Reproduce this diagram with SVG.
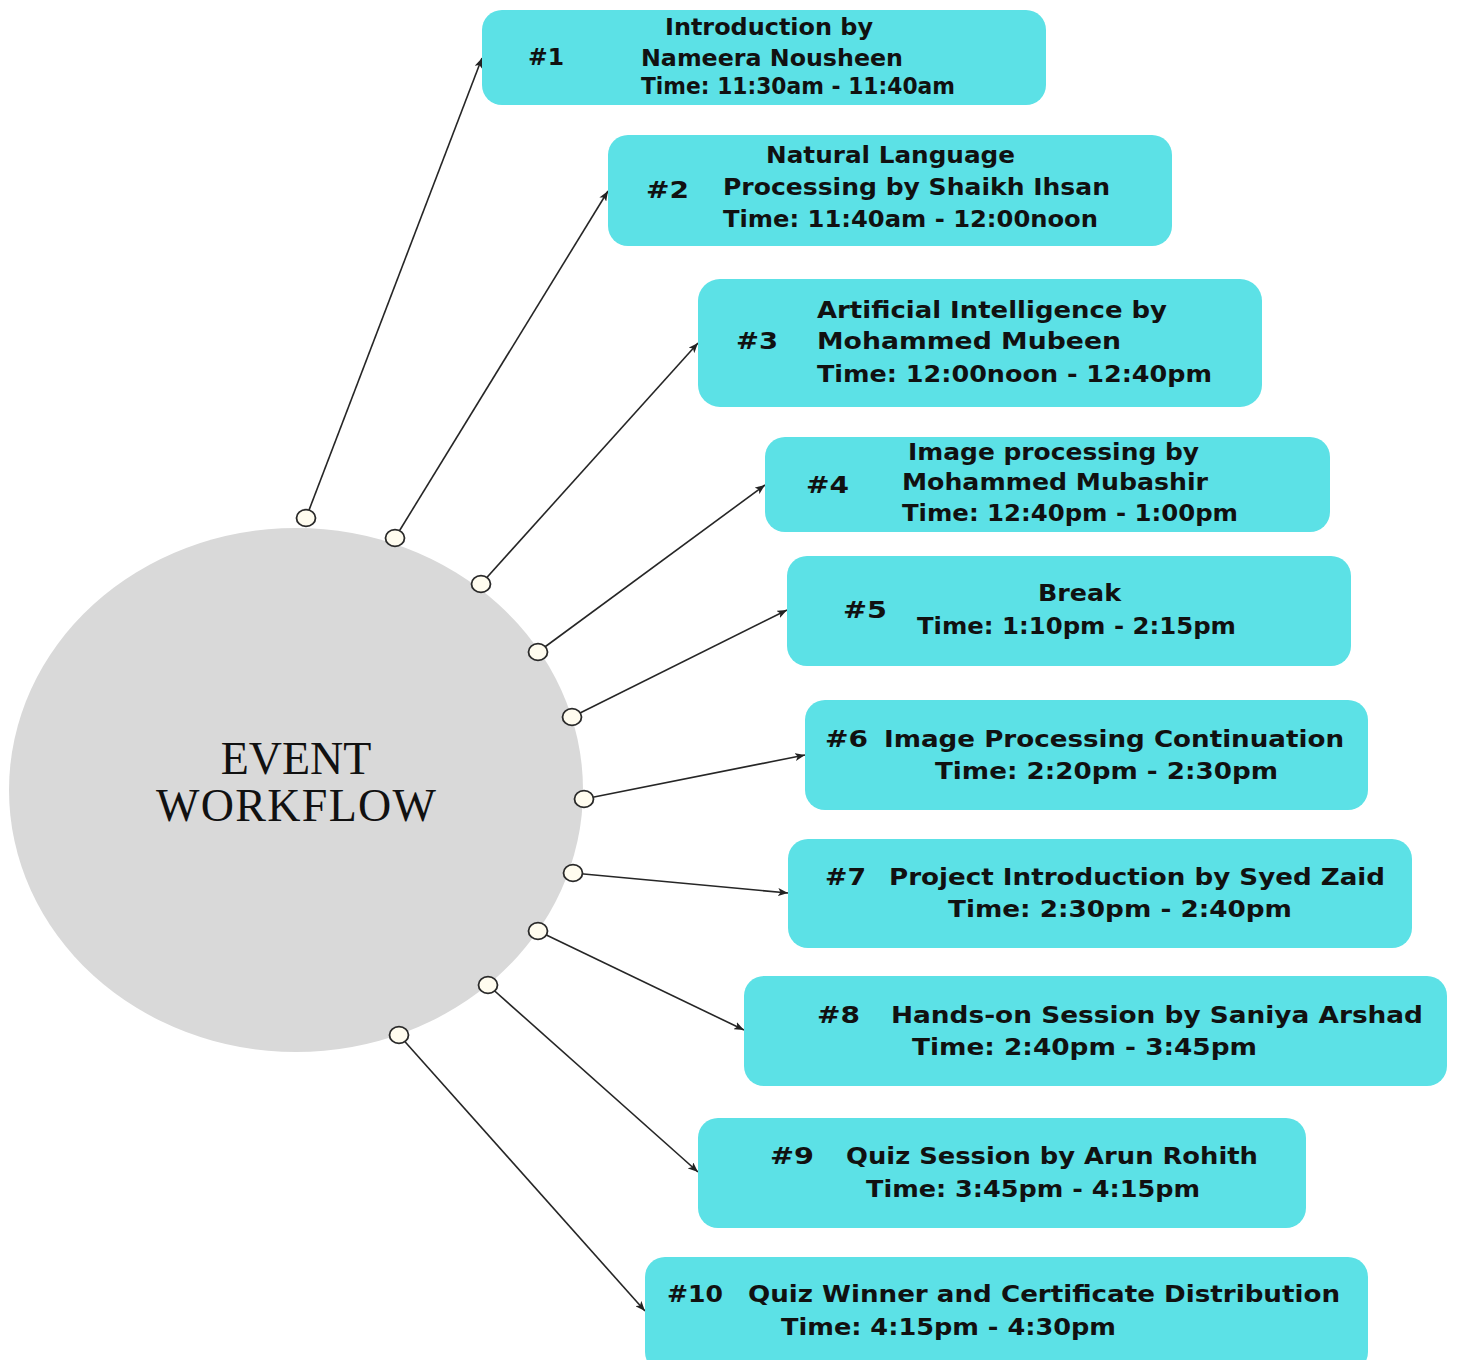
<svg xmlns="http://www.w3.org/2000/svg" width="1457" height="1360" viewBox="0 0 1457 1360">
<style>
.box{fill:#5ce1e6}
.t{font-family:"DejaVu Sans","Noto Sans",sans-serif;font-weight:700;font-size:23.5px;fill:#111}
.t1{font-size:23px}
.c{font-family:"Liberation Serif","Times New Roman",serif;font-size:46px;fill:#111;text-anchor:middle}
.ln{fill:none;stroke:#262626;stroke-width:1.6;marker-start:url(#dot);marker-end:url(#arr)}
</style>
<defs>
<marker id="arr" markerUnits="userSpaceOnUse" viewBox="0 0 10 8" refX="10" refY="4" markerWidth="10" markerHeight="8" orient="auto">
<path d="M0,0 L10,4 L0,8 L2.5,4 z" fill="#222"/>
</marker>
<marker id="dot" markerUnits="userSpaceOnUse" viewBox="-12 -11 24 22" refX="0" refY="0" markerWidth="24" markerHeight="22" orient="0">
<ellipse cx="0" cy="0" rx="9.5" ry="8.3" fill="#fffcef" stroke="#2a2a2a" stroke-width="1.8"/>
</marker>
</defs>
<rect width="1457" height="1360" fill="#ffffff"/>
<g id="center">
<ellipse cx="296" cy="790" rx="287" ry="262" fill="#d9d9d9"/>
<text class="c" x="296" y="774">EVENT</text>
<text class="c" x="296" y="821" textLength="280">WORKFLOW</text>
</g>
<g id="connectors">
<path class="ln" d="M306,518 L482,58"/>
<path class="ln" d="M395,538 L608,191"/>
<path class="ln" d="M481,584 L698,343"/>
<path class="ln" d="M538,652 L765,485"/>
<path class="ln" d="M572,717 L787,610"/>
<path class="ln" d="M584,799 L805,755"/>
<path class="ln" d="M573,873 L788,893"/>
<path class="ln" d="M538,931 L744,1030"/>
<path class="ln" d="M488,985 L698,1172"/>
<path class="ln" d="M399,1035 L645,1311"/>
</g>
<g id="node-1">
<rect class="box" x="482" y="10" width="564" height="95" rx="20"/>
<text class="t t1" x="528" y="65" textLength="36" lengthAdjust="spacingAndGlyphs">#1</text>
<text class="t t1" x="665" y="35" textLength="208" lengthAdjust="spacingAndGlyphs">Introduction by</text>
<text class="t t1" x="641" y="65.5" textLength="262" lengthAdjust="spacingAndGlyphs">Nameera Nousheen</text>
<text class="t t1" x="641" y="93.5" textLength="314" lengthAdjust="spacingAndGlyphs">Time: 11:30am - 11:40am</text>
</g>
<g id="node-2">
<rect class="box" x="608" y="135" width="564" height="111" rx="20"/>
<text class="t" x="646" y="198" textLength="43" lengthAdjust="spacingAndGlyphs">#2</text>
<text class="t" x="766" y="163" textLength="249" lengthAdjust="spacingAndGlyphs">Natural Language</text>
<text class="t" x="723" y="195" textLength="387" lengthAdjust="spacingAndGlyphs">Processing by Shaikh Ihsan</text>
<text class="t" x="723" y="227" textLength="375" lengthAdjust="spacingAndGlyphs">Time: 11:40am - 12:00noon</text>
</g>
<g id="node-3">
<rect class="box" x="698" y="279" width="564" height="128" rx="22"/>
<text class="t" x="736" y="349" textLength="42" lengthAdjust="spacingAndGlyphs">#3</text>
<text class="t" x="817" y="318" textLength="350" lengthAdjust="spacingAndGlyphs">Artificial Intelligence by</text>
<text class="t" x="817" y="349" textLength="304" lengthAdjust="spacingAndGlyphs">Mohammed Mubeen</text>
<text class="t" x="817" y="382" textLength="395" lengthAdjust="spacingAndGlyphs">Time: 12:00noon - 12:40pm</text>
</g>
<g id="node-4">
<rect class="box" x="765" y="437" width="565" height="95" rx="20"/>
<text class="t" x="806" y="493" textLength="43" lengthAdjust="spacingAndGlyphs">#4</text>
<text class="t" x="908" y="460" textLength="291" lengthAdjust="spacingAndGlyphs">Image processing by</text>
<text class="t" x="902" y="490" textLength="306" lengthAdjust="spacingAndGlyphs">Mohammed Mubashir</text>
<text class="t" x="902" y="521" textLength="336" lengthAdjust="spacingAndGlyphs">Time: 12:40pm - 1:00pm</text>
</g>
<g id="node-5">
<rect class="box" x="787" y="556" width="564" height="110" rx="20"/>
<text class="t" x="843" y="618" textLength="44" lengthAdjust="spacingAndGlyphs">#5</text>
<text class="t" x="1038" y="601" textLength="83" lengthAdjust="spacingAndGlyphs">Break</text>
<text class="t" x="917" y="634" textLength="319" lengthAdjust="spacingAndGlyphs">Time: 1:10pm - 2:15pm</text>
</g>
<g id="node-6">
<rect class="box" x="805" y="700" width="563" height="110" rx="20"/>
<text class="t" x="825" y="747" textLength="43" lengthAdjust="spacingAndGlyphs">#6</text>
<text class="t" x="884" y="747" textLength="460" lengthAdjust="spacingAndGlyphs">Image Processing Continuation</text>
<text class="t" x="935" y="779" textLength="343" lengthAdjust="spacingAndGlyphs">Time: 2:20pm - 2:30pm</text>
</g>
<g id="node-7">
<rect class="box" x="788" y="839" width="624" height="109" rx="20"/>
<text class="t" x="825" y="885" textLength="41" lengthAdjust="spacingAndGlyphs">#7</text>
<text class="t" x="889" y="885" textLength="496" lengthAdjust="spacingAndGlyphs">Project Introduction by Syed Zaid</text>
<text class="t" x="948" y="917" textLength="344" lengthAdjust="spacingAndGlyphs">Time: 2:30pm - 2:40pm</text>
</g>
<g id="node-8">
<rect class="box" x="744" y="976" width="703" height="110" rx="20"/>
<text class="t" x="817" y="1023" textLength="43" lengthAdjust="spacingAndGlyphs">#8</text>
<text class="t" x="891" y="1023" textLength="532" lengthAdjust="spacingAndGlyphs">Hands-on Session by Saniya Arshad</text>
<text class="t" x="912" y="1055" textLength="345" lengthAdjust="spacingAndGlyphs">Time: 2:40pm - 3:45pm</text>
</g>
<g id="node-9">
<rect class="box" x="698" y="1118" width="608" height="110" rx="20"/>
<text class="t" x="770" y="1164" textLength="44" lengthAdjust="spacingAndGlyphs">#9</text>
<text class="t" x="846" y="1164" textLength="412" lengthAdjust="spacingAndGlyphs">Quiz Session by Arun Rohith</text>
<text class="t" x="866" y="1197" textLength="334" lengthAdjust="spacingAndGlyphs">Time: 3:45pm - 4:15pm</text>
</g>
<g id="node-10">
<rect class="box" x="645" y="1257" width="723" height="115" rx="20"/>
<text class="t" x="667" y="1302" textLength="56" lengthAdjust="spacingAndGlyphs">#10</text>
<text class="t" x="748" y="1302" textLength="592" lengthAdjust="spacingAndGlyphs">Quiz Winner and Certificate Distribution</text>
<text class="t" x="781" y="1335" textLength="335" lengthAdjust="spacingAndGlyphs">Time: 4:15pm - 4:30pm</text>
</g>
</svg>
